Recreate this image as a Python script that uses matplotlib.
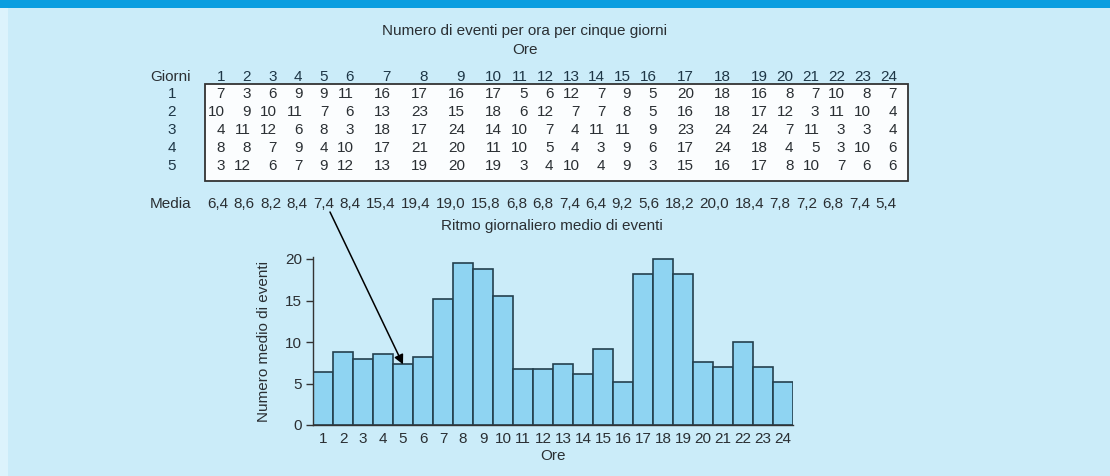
import matplotlib
matplotlib.use('Agg')
import matplotlib.pyplot as plt

plt.rcParams['font.family'] = ['Liberation Sans', 'DejaVu Sans']

# Data
ore = list(range(1, 25))
giorni = [1, 2, 3, 4, 5]
giorno_1 = [7, 3, 6, 9, 9, 11, 16, 17, 16, 17, 5, 6, 12, 7, 9, 5, 20, 18, 16, 8, 7, 10, 8, 7]
giorno_2 = [10, 9, 10, 11, 7, 6, 13, 23, 15, 18, 6, 12, 7, 7, 8, 5, 16, 18, 17, 12, 3, 11, 10, 4]
giorno_3 = [4, 11, 12, 6, 8, 3, 18, 17, 24, 14, 10, 7, 4, 11, 11, 9, 23, 24, 24, 7, 11, 3, 3, 4]
giorno_4 = [8, 8, 7, 9, 4, 10, 17, 21, 20, 11, 10, 5, 4, 3, 9, 6, 17, 24, 18, 4, 5, 3, 10, 6]
giorno_5 = [3, 12, 6, 7, 9, 12, 13, 19, 20, 19, 3, 4, 10, 4, 9, 3, 15, 16, 17, 8, 10, 7, 6, 6]
media = [6.4, 8.6, 8.2, 8.4, 7.4, 8.4, 15.4, 19.4, 19.0, 15.8, 6.8, 6.8, 7.4, 6.4,
         9.2, 5.6, 18.2, 20.0, 18.4, 7.8, 7.2, 6.8, 7.4, 5.4]
# bar heights as drawn in the histogram
barre = [6.4, 8.8, 7.9, 8.5, 7.3, 8.2, 15.2, 19.5, 18.8, 15.5, 6.8, 6.8, 7.4, 6.2,
         9.2, 5.2, 18.2, 20.0, 18.2, 7.6, 7.0, 10.0, 7.0, 5.2]
yticks = [0, 5, 10, 15, 20]

righe = [giorno_1, giorno_2, giorno_3, giorno_4, giorno_5]

W, H = 1110, 476
bg = '#cbecf9'
txt = '#2a2f33'
fs = 11
fpx = fs * 100 / 72  # font size in pixels

fig = plt.figure(figsize=(W / 100, H / 100), dpi=100)
fig.patch.set_facecolor(bg)

# overlay in pixel coordinates for the table part
ax0 = fig.add_axes([0, 0, 1, 1])
ax0.set_xlim(0, W)
ax0.set_ylim(H, 0)
ax0.axis('off')
ax0.add_patch(plt.Rectangle((0, 0), W, 8, color='#0b9ee0', lw=0))
ax0.add_patch(plt.Rectangle((0, 8), 8, H, color='#dcf3fc', lw=0))

ax0.text(524, 31, 'Numero di eventi per ora per cinque giorni', ha='center', va='center',
         fontsize=fs, color=txt)
ax0.text(525, 50, 'Ore', ha='center', va='center', fontsize=fs, color=txt)

# column right edges (wider columns for 7-10 and 17-19)
larghe = {7, 8, 9, 10, 17, 18, 19}
col_x = []
x = 225
for h in ore:
    if h > 1:
        x += 37 if h in larghe else 25.8
    col_x.append(x)

ax0.add_patch(plt.Rectangle((205, 84), 908 - 205, 181 - 84, facecolor='#fbfdfe',
                            edgecolor='#333333', lw=1.3))
ax0.text(150, 77, 'Giorni', ha='left', va='center', fontsize=fs, color=txt)
for h, cx in zip(ore, col_x):
    ax0.text(cx, 77, str(h), ha='right', va='center', fontsize=fs, color='#1e3646')

row_y = [94, 112, 130, 148, 166]
for g, vals, ry in zip(giorni, righe, row_y):
    ax0.text(172, ry, str(g), ha='center', va='center', fontsize=fs, color='#1e3646')
    for v, cx in zip(vals, col_x):
        ax0.text(cx, ry, str(v), ha='right', va='center', fontsize=fs, color=txt)

# Media row: values spread between x0 and x1
ax0.text(150, 204, 'Media', ha='left', va='center', fontsize=fs, color=txt)
etichette = [f'{m:.1f}'.replace('.', ',') for m in media]
larg = [(0.556 * (len(e) - 1) + 0.278) * fpx for e in etichette]
x0, x1 = 207, col_x[-1]
gap = (x1 - x0 - sum(larg)) / (len(larg) - 1)
xm = x0
for e, w in zip(etichette, larg):
    ax0.text(xm, 204, e, ha='left', va='center', fontsize=fs, color=txt)
    xm += w + gap

ax0.text(552, 226, 'Ritmo giornaliero medio di eventi', ha='center', va='center',
         fontsize=fs, color=txt)

# histogram
y_top = 20.2
ax = fig.add_axes([313 / W, (H - 425) / H, 480 / W, (20.2 * 8.3) / H])
ax.set_facecolor('none')
ax.bar(ore, barre, width=1.0, color='#8fd4f2', edgecolor='#23404e', linewidth=1.2, zorder=2)
ax.set_xlim(0.5, 24.5)
ax.set_ylim(0, y_top)
ax.set_yticks(yticks)
ax.set_xticks(ore)
for s in ['top', 'right']:
    ax.spines[s].set_visible(False)
for s in ['left', 'bottom']:
    ax.spines[s].set_color('#333333')
    ax.spines[s].set_linewidth(1.0)
ax.tick_params(axis='y', length=5, width=1, color='#333333', pad=3, labelsize=fs, labelcolor=txt)
ax.tick_params(axis='x', length=0, pad=5, labelsize=fs, labelcolor=txt)
ax.set_xlabel('Ore', fontsize=fs, color=txt, labelpad=2)
ax.set_ylabel('Numero medio di eventi', fontsize=fs, color=txt, labelpad=10)

ax.annotate('', xy=(5, barre[4]), xycoords='data', xytext=(330, 212), textcoords=ax0.transData,
            arrowprops=dict(arrowstyle='-|>', color='black', lw=1.1, mutation_scale=14,
                            shrinkA=0, shrinkB=0),
            annotation_clip=False, zorder=5)

fig.savefig('out.png', dpi=100, facecolor=fig.get_facecolor())
